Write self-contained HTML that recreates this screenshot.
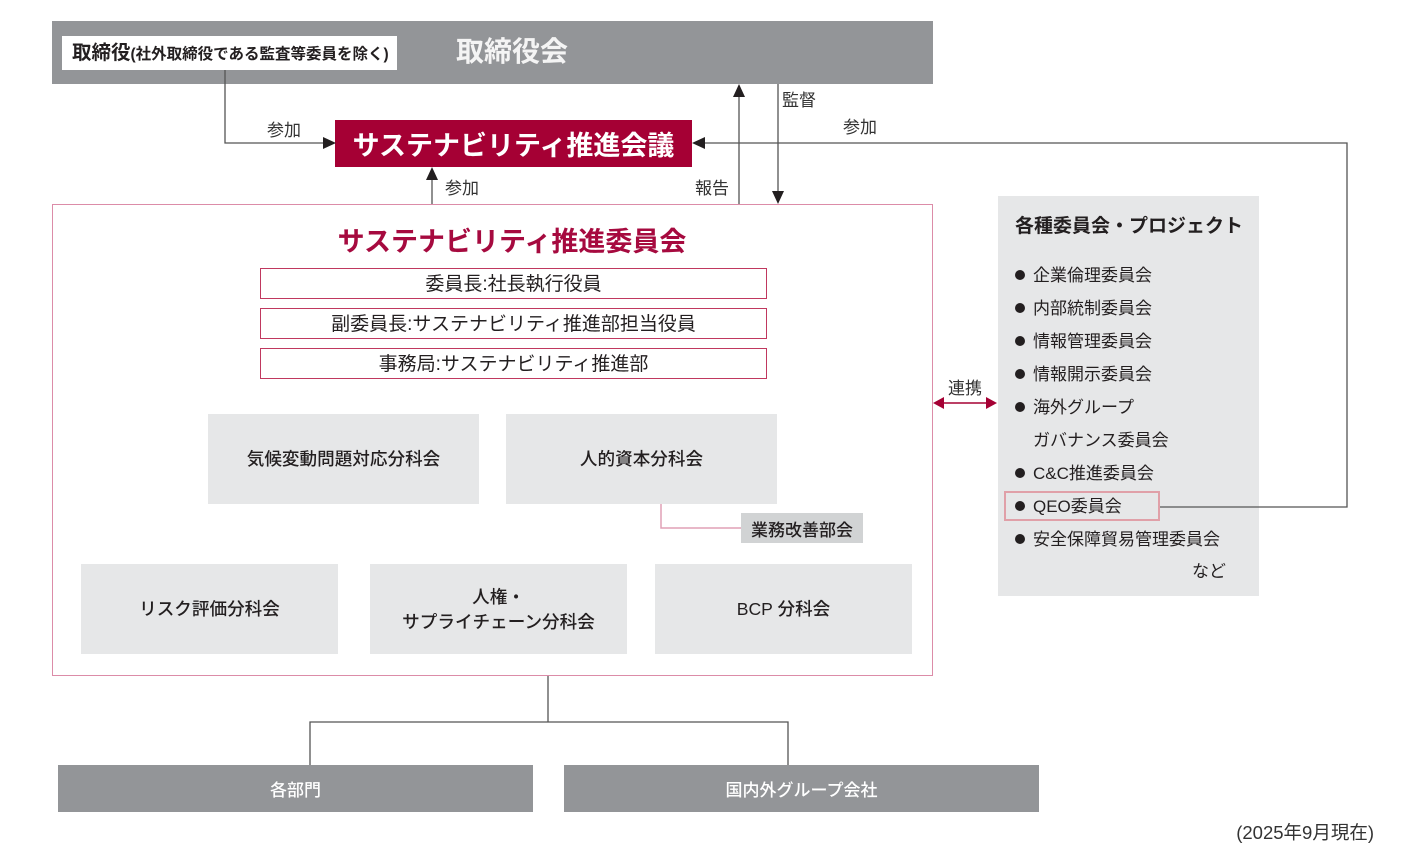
<!DOCTYPE html>
<html><head><meta charset="utf-8">
<style>
html,body{margin:0;padding:0;background:#fff;}
body{width:1402px;height:867px;position:relative;overflow:hidden;font-family:"Liberation Sans","Noto Sans CJK JP",sans-serif;color:#231f20;}
.a{position:absolute;white-space:nowrap;}
.box{position:absolute;display:flex;align-items:center;justify-content:center;text-align:center;}
.lbl{position:absolute;white-space:nowrap;font-size:17px;line-height:20px;color:#333;}
.sub{background:#e6e7e8;font-size:17.6px;font-weight:500;line-height:25px;}
.role{border:1.5px solid #c0385f;box-sizing:border-box;font-size:19px;line-height:20px;padding-top:3px;}
.li{position:absolute;left:1015px;font-size:17px;line-height:20px;white-space:nowrap;}
.li b{display:inline-block;width:10px;height:10px;border-radius:50%;background:#231f20;margin-right:8px;vertical-align:1px;}
.gb{background:#939598;color:#fff;font-size:17px;font-weight:500;}
</style></head><body>

<!-- top bar -->
<div class="a" style="left:52px;top:21px;width:881px;height:63px;background:#939598;"></div>
<div class="a" style="left:62px;top:36px;width:335px;height:34px;background:#fff;"></div>
<div class="a" style="left:72px;top:38px;line-height:30px;font-weight:700;"><span style="font-size:19.5px;">取締役</span><span style="font-size:15.5px;">(社外取締役である監査等委員を除く)</span></div>
<div class="a" style="left:432px;top:35px;width:160px;text-align:center;font-size:28px;line-height:34px;font-weight:700;color:#f4f4f4;">取締役会</div>

<!-- red box -->
<div class="box" style="left:335px;top:120px;width:357px;height:47px;background:#a50034;color:#fff;font-size:27px;font-weight:700;">サステナビリティ推進会議</div>

<!-- outer pink frame -->
<div class="a" style="left:52px;top:204px;width:881px;height:472px;border:1.5px solid #dc8ca8;box-sizing:border-box;"></div>
<div class="a" style="left:292px;top:226px;width:440px;text-align:center;font-size:27px;line-height:32px;font-weight:700;color:#a60a3f;">サステナビリティ推進委員会</div>

<div class="box role" style="left:260px;top:268px;width:507px;height:31px;">委員長:社長執行役員</div>
<div class="box role" style="left:260px;top:308px;width:507px;height:31px;">副委員長:サステナビリティ推進部担当役員</div>
<div class="box role" style="left:260px;top:348px;width:507px;height:31px;">事務局:サステナビリティ推進部</div>

<div class="box sub" style="left:208px;top:414px;width:271px;height:90px;">気候変動問題対応分科会</div>
<div class="box sub" style="left:506px;top:414px;width:271px;height:90px;">人的資本分科会</div>
<div class="box" style="left:741px;top:513px;width:122px;height:30px;background:#d1d3d4;font-size:17px;font-weight:500;">業務改善部会</div>

<div class="box sub" style="left:81px;top:564px;width:257px;height:90px;">リスク評価分科会</div>
<div class="box sub" style="left:370px;top:564px;width:257px;height:90px;padding-top:2px;box-sizing:border-box;">人権・<br>サプライチェーン分科会</div>
<div class="box sub" style="left:655px;top:564px;width:257px;height:90px;">BCP 分科会</div>

<!-- right panel -->
<div class="a" style="left:998px;top:196px;width:261px;height:400px;background:#e6e7e8;"></div>
<div class="a" style="left:1015px;top:214px;font-size:19px;line-height:26px;font-weight:700;">各種委員会・プロジェクト</div>
<div class="li" style="top:266px;"><b></b>企業倫理委員会</div>
<div class="li" style="top:299px;"><b></b>内部統制委員会</div>
<div class="li" style="top:332px;"><b></b>情報管理委員会</div>
<div class="li" style="top:365px;"><b></b>情報開示委員会</div>
<div class="li" style="top:398px;"><b></b>海外グループ</div>
<div class="li" style="top:431px;left:1033px;">ガバナンス委員会</div>
<div class="li" style="top:464px;"><b></b>C&amp;C推進委員会</div>
<div class="a" style="left:1004px;top:491px;width:156px;height:30px;border:2px solid #e0a0a8;box-sizing:border-box;"></div>
<div class="li" style="top:497px;"><b></b>QEO委員会</div>
<div class="li" style="top:530px;"><b></b>安全保障貿易管理委員会</div>
<div class="a" style="left:1192px;top:562px;font-size:17px;line-height:20px;">など</div>

<!-- bottom -->
<div class="box gb" style="left:58px;top:765px;width:475px;height:47px;">各部門</div>
<div class="box gb" style="left:564px;top:765px;width:475px;height:47px;">国内外グループ会社</div>
<div class="a" style="right:28px;top:822px;font-size:18.5px;line-height:22px;color:#333;">(2025年9月現在)</div>

<!-- labels -->
<div class="lbl" style="left:267px;top:121px;">参加</div>
<div class="lbl" style="left:445px;top:179px;">参加</div>
<div class="lbl" style="left:695px;top:179px;">報告</div>
<div class="lbl" style="left:782px;top:91px;">監督</div>
<div class="lbl" style="left:843px;top:118px;">参加</div>
<div class="lbl" style="left:948px;top:379px;">連携</div>

<svg class="a" style="left:0;top:0;" width="1402" height="867" viewBox="0 0 1402 867">
  <g stroke="#555" stroke-width="1.3" fill="none">
    <polyline points="225,70 225,143 325,143"/>
    <line x1="432" y1="204" x2="432" y2="178"/>
    <line x1="739" y1="204" x2="739" y2="96"/>
    <line x1="778" y1="84" x2="778" y2="192"/>
    <polyline points="1160,507 1347,507 1347,143 704,143"/>
    <line x1="548" y1="676" x2="548" y2="722"/>
    <polyline points="310,765 310,722 788,722 788,765"/>
  </g>
  <polyline points="661,504 661,528 741,528" stroke="#e0a0b5" stroke-width="1.5" fill="none"/>
  <g fill="#231f20">
    <polygon points="336,143 323,137 323,149"/>
    <polygon points="432,167 426,180 438,180"/>
    <polygon points="739,84 733,97 745,97"/>
    <polygon points="778,204 772,191 784,191"/>
    <polygon points="692,143 705,137 705,149"/>
  </g>
  <g fill="#a50034" stroke="#a50034">
    <line x1="940" y1="403" x2="990" y2="403" stroke-width="1.5"/>
    <polygon points="933,403 944,397 944,409" stroke="none"/>
    <polygon points="997,403 986,397 986,409" stroke="none"/>
  </g>
</svg>
</body></html>
